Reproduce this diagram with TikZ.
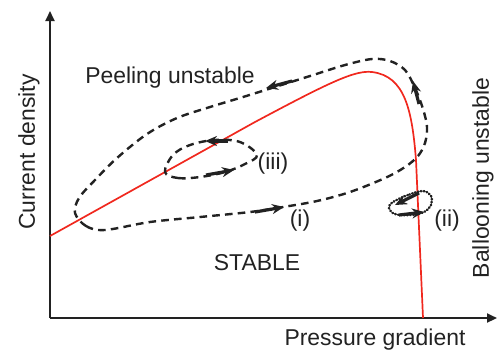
\documentclass[tikz,border=0pt]{standalone}
\usepackage{fontspec}
\setmainfont{Liberation Sans}
\usepackage{tikz}
\usetikzlibrary{positioning,arrows.meta}
\usepackage{xcolor}
\definecolor{curvared}{HTML}{F0281E}
\definecolor{inkgray}{HTML}{222222}

\begin{document}
\begin{tikzpicture}[
    x=0.5bp, y=-0.5bp,
    axis/.style={draw=inkgray, line width=1bp, -{Triangle[length=5bp, width=4.5bp]}},
    boundary/.style={draw=curvared, line width=0.85bp},
    cycleline/.style={draw=inkgray, line width=1.2bp, dash pattern=on 3.8bp off 2.6bp},
    smallcycle/.style={draw=inkgray, line width=1.2bp, dash pattern=on 0.4bp off 1.1bp, line cap=round},
    flowarrow/.style={draw=inkgray, solid, line width=1.6bp, -{Stealth[length=6bp, width=5bp]}},
    regiontext/.style={text=inkgray, font=\fontsize{11.5}{13}\selectfont, inner sep=0pt}
]
    \useasboundingbox (0,0) rectangle (499,352);

    % Assi
    \coordinate (origin) at (50,318);
    \coordinate (ytip) at (50,11);
    \coordinate (xtip) at (497,318);
    \draw[axis] (origin) -- (ytip);
    \draw[axis] (origin) -- (xtip);

    % Confine di stabilita' (peeling-ballooning)
    \draw[boundary] (50,236) -- (255,122)
        .. controls (330,82) and (355,70) .. (372,72)
        .. controls (405,76) and (412,110) .. (416,160) -- (423,318);

    % Ciclo (i): grande
    \draw[cycleline] plot[smooth cycle, tension=0.55] coordinates {
        (75,213) (86,226) (105,230) (150,222) (200,217) (250,212) (283,207)
        (317,201) (350,192) (385,178) (405,167) (418,156) (425,143) (427,127)
        (423,109) (415,88) (405,70) (390,61) (372,59) (345,65) (310,76)
        (275,87) (243,97) (210,107) (177,118) (147,134) (117,158) (95,180) (79,198)};

    % Ciclo (iii): piccolo sul ramo di peeling
    \draw[cycleline] plot[smooth cycle, tension=0.6] coordinates {
        (165,172) (178,178) (200,177) (225,172) (245,164) (257,155)
        (240,142) (215,140) (190,145) (173,155)};

    % Ciclo (ii): vicino al limite ballooning
    \draw[smallcycle] plot[smooth cycle, tension=0.6] coordinates {
        (423,191) (408,195) (393,202) (389,208) (395,214) (410,215)
        (424,212) (431,205) (431,196)};

    % Frecce di percorso
    \coordinate (a1s) at (292,81);  \coordinate (a1e) at (266,88);
    \coordinate (a2s) at (419,104); \coordinate (a2e) at (413,81);
    \coordinate (a3s) at (255,212); \coordinate (a3e) at (284,207);
    \coordinate (a4s) at (228,141); \coordinate (a4e) at (205,141);
    \coordinate (a5s) at (206,175); \coordinate (a5e) at (234,170);
    \coordinate (a6s) at (419,193); \coordinate (a6e) at (395,205);
    \coordinate (a7s) at (399,215); \coordinate (a7e) at (424,212);
    \foreach \s/\e in {a1s/a1e, a2s/a2e, a3s/a3e, a4s/a4e, a5s/a5e, a6s/a6e, a7s/a7e} {
        \draw[flowarrow] (\s) -- (\e);
    }

    % Etichette
    \node[regiontext] (peel) at (170,78) {Peeling unstable};
    \node[regiontext, rotate=90] (jaxis) at (29,152) {Current density};
    \node[regiontext, rotate=90] (balloon) at (483,178) {Ballooning unstable};
    \node[regiontext] (paxis) at (375,340) {Pressure gradient};
    \node[regiontext] (stable) at (257,263) {STABLE};
    \node[regiontext] (ci) at (300,221) {(i)};
    \node[regiontext] (cii) at (447,221) {(ii)};
    \node[regiontext] (ciii) at (273,164) {(iii)};

\end{tikzpicture}
\end{document}
